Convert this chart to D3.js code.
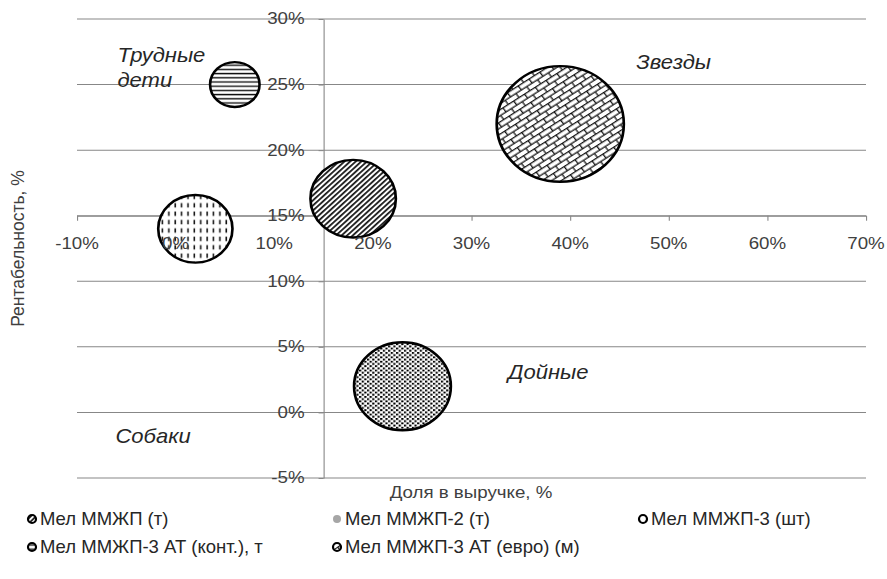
<!DOCTYPE html>
<html>
<head>
<meta charset="utf-8">
<script src="https://cdn.jsdelivr.net/npm/d3@7/dist/d3.min.js"></script>
<style>
  html, body { margin: 0; padding: 0; background: #fff; }
  svg { display: block; font-family: "Liberation Sans", Arial, sans-serif; }
</style>
</head>
<body>
<svg id="chart" width="887" height="579"></svg>
<script>
// Product portfolio: share of revenue vs. profitability, bubble = sales volume
const seriesNames = [
  "Мел ММЖП (т)",
  "Мел ММЖП-2 (т)",
  "Мел ММЖП-3 (шт)",
  "Мел ММЖП-3 АТ (конт.), т",
  "Мел ММЖП-3 АТ (евро) (м)"
];
const revenueShare  = [0.18, 0.23, 0.02, 0.06, 0.39];
const profitability = [0.163, 0.02, 0.14, 0.25, 0.22];
const bubbleSize    = [17.6, 22.6, 13.3, 5.9, 39];
const seriesPattern = ["diag", "dots", "vdash", "hstripe", "brick"];

const xTicks = [-0.1, 0, 0.1, 0.2, 0.3, 0.4, 0.5, 0.6, 0.7];
const yTicks = [-0.05, 0, 0.05, 0.1, 0.15, 0.2, 0.25, 0.3];

const quadrantNames = ["Трудные\nдети", "Звезды", "Дойные", "Собаки"];
const quadrantAt = [[-0.059, 0.2725], [0.467, 0.267], [0.337, 0.0308], [-0.061, -0.0176]];

const xTitle = "Доля в выручке, %";
const yTitle = "Рентабельность, %";

// The plot is laid out in a slightly condensed frame and stretched horizontally.
const sx = 1.1;
const svg = d3.select("#chart");

// ---- Hatch fills ----
const defs = svg.append("defs");
const pHs = defs.append("pattern").attr("id", "hstripe").attr("patternUnits", "userSpaceOnUse")
  .attr("width", 8).attr("height", 4.2);
pHs.append("rect").attr("width", 8).attr("height", 4.2).attr("fill", "#fff");
pHs.append("rect").attr("y", 1.5).attr("width", 8).attr("height", 1.4).attr("fill", "#111");

const pVd = defs.append("pattern").attr("id", "vdash").attr("patternUnits", "userSpaceOnUse")
  .attr("width", 5.8).attr("height", 8.4);
pVd.append("rect").attr("width", 5.8).attr("height", 8.4).attr("fill", "#fff");
pVd.append("rect").attr("x", 2).attr("y", 1.5).attr("width", 1.4).attr("height", 4.4).attr("fill", "#111");

const pDg = defs.append("pattern").attr("id", "diag").attr("patternUnits", "userSpaceOnUse")
  .attr("width", 3.6).attr("height", 3.6).attr("patternTransform", "rotate(45)");
pDg.append("rect").attr("width", 3.6).attr("height", 3.6).attr("fill", "#fff");
pDg.append("rect").attr("width", 1.7).attr("height", 3.6).attr("fill", "#1a1a1a");

const pDt = defs.append("pattern").attr("id", "dots").attr("patternUnits", "userSpaceOnUse")
  .attr("width", 4.8).attr("height", 4.4);
pDt.append("rect").attr("width", 4.8).attr("height", 4.4).attr("fill", "#fff");
pDt.append("rect").attr("x", 0).attr("y", 0).attr("width", 2).attr("height", 1.9).attr("fill", "#000");
pDt.append("rect").attr("x", 2.4).attr("y", 2.2).attr("width", 2).attr("height", 1.9).attr("fill", "#000");

const pBr = defs.append("pattern").attr("id", "brick").attr("patternUnits", "userSpaceOnUse")
  .attr("width", 12).attr("height", 10).attr("patternTransform", "rotate(-35)");
pBr.append("rect").attr("width", 12).attr("height", 10).attr("fill", "#fff");
const brickLines = [[0, 12, 0.6, 0.6], [0, 12, 5.6, 5.6], [0.6, 0.6, 0.6, 5.6], [6.6, 6.6, 5.6, 10.6]];
pBr.selectAll("line").data(brickLines).join("line")
  .attr("x1", d => d[0]).attr("x2", d => d[1]).attr("y1", d => d[2]).attr("y2", d => d[3])
  .attr("stroke", "#111").attr("stroke-width", 1.2);

// ---- Scales ----
const g = svg.append("g").attr("transform", `scale(${sx},1)`);
const x = d3.scaleLinear().domain([-0.1, 0.7]).range([77 / sx, 866 / sx]);
const y = d3.scaleLinear().domain([-0.05, 0.3]).range([478, 19]);
const r = d3.scaleSqrt().domain([0, d3.max(bubbleSize)]).range([0, 57.8]);
const pct = v => d3.format(".0%")(v).replace("\u2212", "-");
const gridColor = "#878787";
const labelColor = "#404040";
const axisCross = 0.15;

// Horizontal gridlines
g.append("g").selectAll("line").data(yTicks).join("line")
  .attr("x1", x(-0.1)).attr("x2", x(0.7))
  .attr("y1", d => y(d)).attr("y2", d => y(d))
  .attr("stroke", gridColor).attr("stroke-width", 1);

// Axis lines and ticks, crossing at 15% / 15%
const xAxis = g.append("g").attr("transform", `translate(0,${y(axisCross)})`)
  .call(d3.axisBottom(x).tickValues(xTicks).tickFormat("").tickSize(5).tickSizeOuter(0));
const yAxis = g.append("g").attr("transform", `translate(${x(axisCross)},0)`)
  .call(d3.axisLeft(y).tickValues(yTicks).tickFormat("").tickSize(5 / sx).tickSizeOuter(0));
[xAxis, yAxis].forEach(a => a.selectAll("path, line").attr("stroke", gridColor));

// Bubbles
const bubbles = seriesNames.map((n, i) => ({
  name: n, x: revenueShare[i], y: profitability[i], s: bubbleSize[i], p: seriesPattern[i]
}));
g.append("g").selectAll("circle").data(bubbles).join("circle")
  .attr("cx", d => x(d.x)).attr("cy", d => y(d.y)).attr("r", d => r(d.s))
  .attr("fill", d => `url(#${d.p})`)
  .attr("stroke", "#000").attr("stroke-width", 2.4);

// Tick labels drawn on top of the bubbles
g.append("g").selectAll("text").data(xTicks).join("text")
  .attr("x", d => x(d)).attr("y", y(axisCross) + 21).attr("dy", "0.71em")
  .attr("text-anchor", "middle").attr("fill", labelColor).style("font-size", "17px").text(pct);
g.append("g").selectAll("text").data(yTicks).join("text")
  .attr("x", x(axisCross) - 19 / sx).attr("y", d => y(d)).attr("dy", "0.32em")
  .attr("text-anchor", "end").attr("fill", labelColor).style("font-size", "17px").text(pct);

// Quadrant captions
g.append("g").selectAll("text").data(quadrantNames).join("text")
  .attr("x", (d, i) => x(quadrantAt[i][0]))
  .attr("y", (d, i) => y(quadrantAt[i][1]))
  .attr("fill", "#262626").style("font-size", "20px").style("font-style", "italic")
  .each(function (d) {
    const t = d3.select(this);
    d.split("\n").forEach((line, k) => {
      t.append("tspan").attr("x", t.attr("x")).attr("dy", k === 0 ? "0.35em" : "1.25em").text(line);
    });
  });

// Axis titles
g.append("text").attr("x", 471 / sx).attr("y", 492).attr("dy", "0.35em")
  .attr("text-anchor", "middle").attr("fill", labelColor).style("font-size", "17px").text(xTitle);
svg.append("text").attr("transform", "translate(18,248.5) rotate(-90)").attr("dy", "0.35em")
  .attr("text-anchor", "middle").attr("fill", labelColor).style("font-size", "17.5px").text(yTitle);

// Legend
const legendCols = [32, 337, 643];
const legendRows = [519, 547];
const leg = svg.append("g").selectAll("g").data(bubbles).join("g")
  .attr("transform", (d, i) => `translate(${legendCols[i % 3]},${legendRows[Math.floor(i / 3)]})`);
leg.append("circle").attr("r", 4).attr("fill", d => d.p === "dots" ? "#a6a6a6" : `url(#${d.p})`)
  .attr("stroke", d => d.p === "dots" ? "none" : "#000").attr("stroke-width", 2.2);
leg.append("text").attr("x", 8).attr("dy", "0.35em").attr("fill", "#262626")
  .style("font-size", "18.5px").text(d => d.name);
</script>
</body>
</html>
